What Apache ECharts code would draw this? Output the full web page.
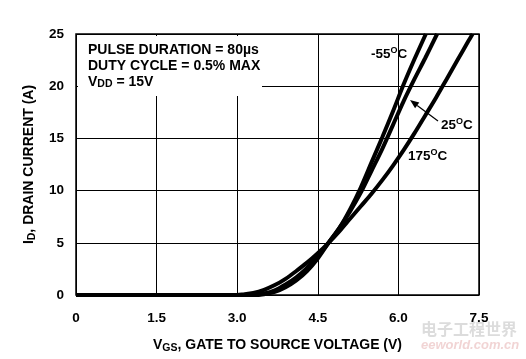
<!DOCTYPE html>
<html>
<head>
<meta charset="utf-8">
<script src="https://cdn.jsdelivr.net/npm/echarts@6/dist/echarts.min.js"></script>
<style>
html,body{margin:0;padding:0;background:#fff;}
#c{width:526px;height:359px;}
</style>
</head>
<body>
<div id="c"></div>
<script>
// ---- data ----
var xTickLabels = ['0', '1.5', '3.0', '4.5', '6.0', '7.5'];
var yTickLabels = ['0', '5', '10', '15', '20', '25'];

var vgsM55 = [0, 1.5, 3.0, 3.3, 3.5, 3.7, 3.9, 4.1, 4.3, 4.5, 4.7, 4.9, 5.1, 5.3, 5.5, 5.7, 5.9, 6.1, 6.3, 6.51];
var idM55  = [0, 0, 0, 0, 0.08, 0.3, 0.75, 1.4, 2.3, 3.5, 5.0, 6.4, 8.2, 10.3, 12.7, 15.1, 17.6, 20.2, 22.6, 25];

var vgs25 = [0, 1.5, 3.0, 3.3, 3.5, 3.7, 3.9, 4.1, 4.3, 4.5, 4.7, 4.9, 5.1, 5.3, 5.5, 5.7, 5.9, 6.1, 6.3, 6.5, 6.72];
var id25  = [0, 0, 0, 0.03, 0.15, 0.45, 1.0, 1.7, 2.6, 3.7, 5.0, 6.4, 8.0, 9.8, 11.9, 14.0, 16.3, 18.6, 20.7, 22.7, 25];

var vgs175 = [0, 1.5, 3.0, 3.1, 3.3, 3.5, 3.7, 3.9, 4.1, 4.3, 4.5, 4.7, 4.9, 5.1, 5.3, 5.5, 5.7, 5.9, 6.1, 6.3, 6.5, 6.7, 6.9, 7.1, 7.3, 7.38];
var id175  = [0, 0, 0, 0.05, 0.2, 0.5, 0.95, 1.55, 2.3, 3.1, 4.0, 5.0, 6.1, 7.3, 8.5, 9.7, 11.0, 12.4, 13.9, 15.5, 17.2, 18.9, 20.7, 22.5, 24.3, 25];

function pairs(xs, ys) { return xs.map(function (x, i) { return [x, ys[i]]; }); }

var FONT = '"Liberation Sans", Arial, Helvetica, sans-serif';
var chart = echarts.init(document.getElementById('c'), null, {renderer: 'canvas'});

function lineSeries(name, xs, ys) {
  return {
    name: name, type: 'line', data: pairs(xs, ys), smooth: 0.3,
    showSymbol: false, symbol: 'none', animation: false,
    lineStyle: {color: '#000', width: 4}, z: 3
  };
}

// arrow geometry (annotation)
var ax0 = 438, ay0 = 121, ax1 = 410, ay1 = 100;
var dx = ax1 - ax0, dy = ay1 - ay0, L = Math.sqrt(dx*dx + dy*dy);
var ux = dx / L, uy = dy / L, hl = 9, hw = 3.5;
var bx = ax1 - ux*hl, by = ay1 - uy*hl;
var arrowHead = [[ax1, ay1], [bx - uy*hw, by + ux*hw], [bx + uy*hw, by - ux*hw]];

var labelRich = {
  n: {fontFamily: FONT, fontWeight: 'bold', fontSize: 13.5, color: '#000', lineHeight: 16},
  s: {fontFamily: FONT, fontWeight: 'bold', fontSize: 9, color: '#000', verticalAlign: 'top', lineHeight: 16}
};

chart.setOption({
  animation: false,
  backgroundColor: '#fff',
  grid: {left: 76, top: 34, right: 47, bottom: 63, show: true, borderColor: '#000', borderWidth: 1.5, backgroundColor: 'transparent'},
  xAxis: {
    type: 'value', min: 0, max: 7.5, interval: 1.5,
    axisLine: {show: false}, axisTick: {show: false},
    splitLine: {show: true, lineStyle: {color: '#000', width: 1}},
    axisLabel: {
      margin: 16, color: '#000', fontWeight: 'bold', fontSize: 13.5, fontFamily: FONT,
      formatter: function (v) { return xTickLabels[Math.round(v / 1.5)]; }
    },
    name: '{b|V}{sub|GS}{b|, GATE TO SOURCE VOLTAGE (V)}',
    nameLocation: 'middle', nameGap: 42,
    nameTextStyle: {
      rich: {
        b: {fontFamily: FONT, fontWeight: 'bold', fontSize: 14, color: '#000'},
        sub: {fontFamily: FONT, fontWeight: 'bold', fontSize: 10.5, color: '#000', padding: [6, 0, 0, 0]}
      }
    }
  },
  yAxis: {
    type: 'value', min: 0, max: 25, interval: 5,
    axisLine: {show: false}, axisTick: {show: false},
    splitLine: {show: true, lineStyle: {color: '#000', width: 1}},
    axisLabel: {
      margin: 12, color: '#000', fontWeight: 'bold', fontSize: 13.5, fontFamily: FONT,
      formatter: function (v) { return yTickLabels[Math.round(v / 5)]; }
    },
    name: '{b|I}{sub|D}{b|, DRAIN CURRENT (A)}',
    nameLocation: 'middle', nameGap: 36,
    nameTextStyle: {
      rich: {
        b: {fontFamily: FONT, fontWeight: 'bold', fontSize: 14, color: '#000'},
        sub: {fontFamily: FONT, fontWeight: 'bold', fontSize: 10.5, color: '#000', padding: [6, 0, 0, 0]}
      }
    }
  },
  series: [
    lineSeries('-55°C', vgsM55, idM55),
    lineSeries('25°C', vgs25, id25),
    lineSeries('175°C', vgs175, id175)
  ],
  graphic: [
    {type: 'rect', z: 10, shape: {x: 78, y: 36, width: 184, height: 60}, style: {fill: '#fff'}},
    {type: 'text', z: 11, left: 88, top: 43, style: {
      text: '{n|PULSE DURATION = 80µs}\n{n|DUTY CYCLE = 0.5% MAX}\n{n|V}{d|DD}{n| = 15V}',
      rich: {
        n: {fontFamily: FONT, fontWeight: 'bold', fontSize: 14, color: '#000', lineHeight: 16},
        d: {fontFamily: FONT, fontWeight: 'bold', fontSize: 10.5, color: '#000', lineHeight: 16, verticalAlign: 'bottom', padding: [5, 0, 0, 0]}
      }
    }},
    {type: 'text', z: 11, left: 371, top: 46, style: {text: '{n|-55}{s|O}{n|C}', rich: labelRich}},
    {type: 'text', z: 11, left: 441, top: 117, style: {text: '{n|25}{s|O}{n|C}', rich: labelRich}},
    {type: 'text', z: 11, left: 408, top: 148, style: {text: '{n|175}{s|O}{n|C}', rich: labelRich}},
    {type: 'line', z: 11, shape: {x1: ax0, y1: ay0, x2: bx, y2: by}, style: {stroke: '#000', lineWidth: 1.2}},
    {type: 'polygon', z: 11, shape: {points: arrowHead}, style: {fill: '#000'}},
    {type: 'text', z: 1, left: 421, top: 321, style: {text: '电子工程世界', font: 'bold 16px "Noto Sans CJK SC"', fill: 'rgba(185,185,185,0.5)'}},
    {type: 'text', z: 1, left: 421, top: 339, style: {text: 'eeworld.com.cn', font: 'italic bold 13px ' + FONT, fill: 'rgba(225,160,160,0.45)'}}
  ]
});
</script>
</body>
</html>
